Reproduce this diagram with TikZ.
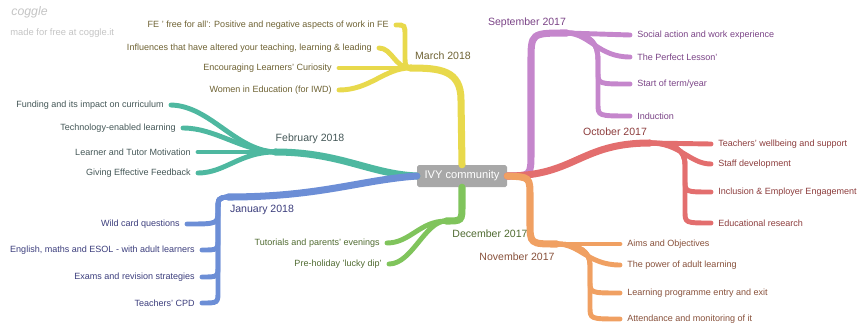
\documentclass[tikz,border=0pt]{standalone}
\usepackage{fontspec}
\setmainfont{Liberation Sans}

% branch colours and their text colours
\definecolor{yel}{HTML}{E8D94C}  \definecolor{yeltx}{HTML}{6E6233}
\definecolor{teal}{HTML}{4EB8A0} \definecolor{tealtx}{HTML}{445757}
\definecolor{blu}{HTML}{6C8ED6}  \definecolor{blutx}{HTML}{3B3D7C}
\definecolor{grn}{HTML}{80C45C}  \definecolor{grntx}{HTML}{4F6A30}
\definecolor{pur}{HTML}{C586CC}  \definecolor{purtx}{HTML}{7A4386}
\definecolor{rd}{HTML}{E36E6E}   \definecolor{rdtx}{HTML}{8C3C3C}
\definecolor{org}{HTML}{F0A062}  \definecolor{orgtx}{HTML}{87503A}
\definecolor{hub}{HTML}{A8A8A8}
\definecolor{cog}{HTML}{C4C4C4}

\begin{document}
\begin{tikzpicture}[x=0.03cm, y=-0.03cm,
  every node/.style={font=\fontsize{7.7}{9}\selectfont, inner sep=1pt},
  trunk/.style={line width=6pt, line cap=round},
  twig/.style={line width=4.2pt, line cap=round},
  lf/.style={anchor=east, inner xsep=6pt},
  rt/.style={anchor=west, inner xsep=6pt},
  month/.style={font=\fontsize{9}{11}\selectfont}]
\useasboundingbox (0,0) rectangle (859,326);
\clip (0,0) rectangle (859,326);

% logo
\node[anchor=west, text=cog, font=\fontsize{10.5}{12}\itshape] (logo) at (10,12) {coggle};
\node[anchor=west, text=cog, font=\fontsize{8}{10}\selectfont] (free) at (9,33) {made for free at coggle.it};

% hub
\node[fill=hub, rounded corners=1.5pt, text=white, minimum width=2.7cm, minimum height=0.66cm,
  font=\fontsize{9.5}{11}\selectfont] (c) at (462,176) {IVY community};

% March 2018
\coordinate (m) at (410,68);
\node[month, text=yeltx] (ml) at (443,56) {March 2018};
\node[lf, text=yeltx] (fe) at (396,25) {FE ' free for all': Positive and negative aspects of work in FE};
\node[lf, text=yeltx] (infl) at (379,48) {Influences that have altered your teaching, learning \& leading};
\node[lf, text=yeltx] (cur) at (339,68) {Encouraging Learners' Curiosity};
\node[lf, text=yeltx] (wom) at (339,90) {Women in Education (for IWD)};
\draw[trunk, yel] (c.north) -- (461,100) .. controls (461,70) and (440,68) .. (m);
\draw[twig, yel] (m) .. controls (405,66) .. (405,55) -- (405,36) .. controls (405,25) .. (fe.east);
\draw[twig, yel] (m) .. controls (395,68) and (392,48) .. (infl.east);
\draw[twig, yel] (m) -- (cur.east);
\draw[twig, yel] (m) .. controls (385,68) and (370,90) .. (wom.east);

% February 2018
\coordinate (f) at (275,152);
\node[month, text=tealtx] (fl) at (310,139) {February 2018};
\node[lf, text=tealtx] (fund) at (171,105) {Funding and its impact on curriculum};
\node[lf, text=tealtx] (tech) at (183,128) {Technology-enabled learning};
\node[lf, text=tealtx] (lrn) at (198,152) {Learner and Tutor Motivation};
\node[lf, text=tealtx] (give) at (198,173) {Giving Effective Feedback};
\draw[trunk, teal] (c.west) .. controls (370,174) and (340,152) .. (f);
\draw[twig, teal] (f) .. controls (235,150) and (210,106) .. (fund.east);
\draw[twig, teal] (f) .. controls (240,150) and (215,128) .. (tech.east);
\draw[twig, teal] (f) -- (lrn.east);
\draw[twig, teal] (f) .. controls (240,152) and (225,173) .. (give.east);

% January 2018
\coordinate (j) at (228,197);
\node[month, text=blutx] (jl) at (262,210) {January 2018};
\node[lf, text=blutx] (wild) at (187,224) {Wild card questions};
\node[lf, text=blutx] (eng) at (202,250) {English, maths and ESOL - with adult learners};
\node[lf, text=blutx] (exam) at (202,277) {Exams and revision strategies};
\node[lf, text=blutx] (cpd) at (202,303) {Teachers' CPD};
\draw[trunk, blu] (c.west) .. controls (360,180) and (320,197) .. (j);
\draw[twig, blu] (j) .. controls (218,198) .. (218,210) .. controls (218,224) .. (wild.east);
\draw[twig, blu] (j) .. controls (218,198) .. (218,212) -- (218,238) .. controls (218,250) .. (eng.east);
\draw[twig, blu] (j) .. controls (218,198) .. (218,212) -- (218,265) .. controls (218,277) .. (exam.east);
\draw[twig, blu] (j) .. controls (218,198) .. (218,212) -- (218,291) .. controls (218,303) .. (cpd.east);

% December 2017
\coordinate (d) at (446,221);
\node[month, text=grntx] (dl) at (490,234) {December 2017};
\node[lf, text=grntx] (tut) at (387,243) {Tutorials and parents' evenings};
\node[lf, text=grntx] (hol) at (389,264) {Pre-holiday 'lucky dip'};
\draw[trunk, grn] (c.south) -- (462,205) .. controls (462,221) .. (d);
\draw[twig, grn] (d) .. controls (420,221) and (410,243) .. (tut.east);
\draw[twig, grn] (d) .. controls (425,221) and (412,264) .. (hol.east);

% September 2017
\coordinate (s) at (567,33);
\node[month, text=purtx] (sl) at (527,23) {September 2017};
\node[rt, text=purtx] (soc) at (630,35) {Social action and work experience};
\node[rt, text=purtx] (perf) at (630,57) {The Perfect Lesson'};
\node[rt, text=purtx] (term) at (630,84) {Start of term/year};
\node[rt, text=purtx] (ind) at (630,116) {Induction};
\draw[trunk, pur] (c.east) .. controls (531,176) .. (531,152) -- (531,62) .. controls (531,33) .. (s);
\draw[twig, pur] (s) -- (soc.west);
\draw[twig, pur] (s) .. controls (590,34) and (598,57) .. (perf.west);
\draw[twig, pur] (s) .. controls (592,33) and (598,45) .. (598,60) -- (598,72) .. controls (598,84) .. (term.west);
\draw[twig, pur] (s) .. controls (592,33) and (598,45) .. (598,60) -- (598,104) .. controls (598,116) .. (ind.west);

% October 2017
\coordinate (o) at (650,143);
\node[month, text=rdtx] (ol) at (615,132) {October 2017};
\node[rt, text=rdtx] (well) at (711,144) {Teachers' wellbeing and support};
\node[rt, text=rdtx] (staff) at (711,164) {Staff development};
\node[rt, text=rdtx] (incl) at (711,192) {Inclusion \& Employer Engagement};
\node[rt, text=rdtx] (res) at (711,223) {Educational research};
\draw[trunk, rd] (c.east) .. controls (575,176) and (580,143) .. (o);
\draw[twig, rd] (o) -- (well.west);
\draw[twig, rd] (o) .. controls (680,143) and (690,164) .. (staff.west);
\draw[twig, rd] (o) .. controls (675,143) and (685,150) .. (685,165) -- (685,180) .. controls (685,192) .. (incl.west);
\draw[twig, rd] (o) .. controls (675,143) and (685,150) .. (685,165) -- (685,211) .. controls (685,223) .. (res.west);

% November 2017
\coordinate (n) at (557,244);
\node[month, text=orgtx] (nl) at (517,257) {November 2017};
\node[rt, text=orgtx] (aims) at (620,244) {Aims and Objectives};
\node[rt, text=orgtx] (pow) at (620,265) {The power of adult learning};
\node[rt, text=orgtx] (prog) at (620,293) {Learning programme entry and exit};
\node[rt, text=orgtx] (att) at (620,319) {Attendance and monitoring of it};
\draw[trunk, org] (c.east) .. controls (530,177) .. (530,197) -- (530,222) .. controls (530,244) .. (n);
\draw[twig, org] (n) -- (aims.west);
\draw[twig, org] (n) .. controls (580,244) and (588,265) .. (pow.west);
\draw[twig, org] (n) .. controls (580,244) and (590,252) .. (590,265) -- (590,281) .. controls (590,293) .. (prog.west);
\draw[twig, org] (n) .. controls (580,244) and (590,252) .. (590,265) -- (590,307) .. controls (590,319) .. (att.west);
\end{tikzpicture}
\end{document}
